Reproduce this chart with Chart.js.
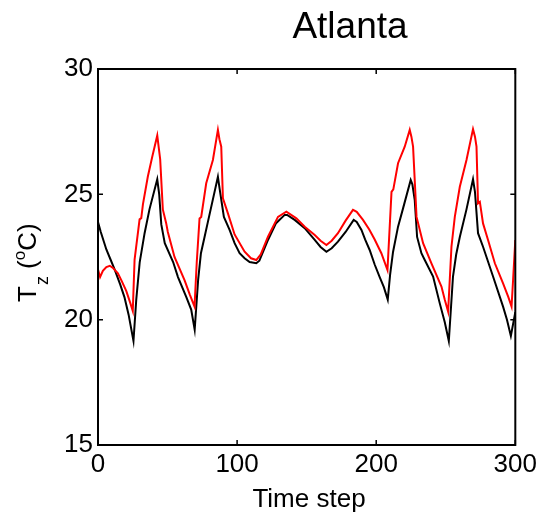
<!DOCTYPE html>
<html>
<head>
<meta charset="utf-8">
<script src="https://cdn.jsdelivr.net/npm/chart.js@4"></script>
<style>
  html, body { margin: 0; padding: 0; background: #fff; }
  canvas { display: block; }
</style>
</head>
<body>
<canvas id="tzChart" width="541" height="515"></canvas>
<script>
const chartTitle = 'Atlanta';
const xTitle = 'Time step';
const xTicks = [0, 100, 200, 300];
const yTicks = [15, 20, 25, 30];

// black curve
const blackSteps = [0, 2, 4, 6, 9, 12, 16, 19, 22, 25.5, 27.5, 30, 33.5, 37, 42.6, 44, 45.5, 48, 54, 57.5,
  63.5, 67, 69.5, 72, 74, 76.6, 79, 86.2, 87.5, 90.5, 94.6, 98.2, 101.8, 105.4, 109, 113.8, 116, 122.2, 128, 134.2,
  136, 141.4, 148.6, 155.8, 160, 164.2, 168, 172.5, 178, 183.8, 186, 189.4, 192, 195.3, 198.9, 202.5, 205.5, 208.3, 210, 212.1,
  215.7, 219.3, 224.8, 226, 227.7, 229.4, 232.5, 234.9, 240.9, 245.7, 249.3, 252.2, 255.2, 257.5, 260.1, 264.9, 269.6, 271, 273.2, 276.8,
  284, 291.2, 294, 296.8, 300];
const blackTz = [23.9, 23.5, 23.15, 22.8, 22.4, 22.0, 21.4, 20.9, 20.2, 19.15, 20.8, 22.3, 23.45, 24.4, 25.6, 25.0, 23.8, 23.05, 22.3, 21.7,
  20.9, 20.4, 19.6, 21.6, 22.65, 23.3, 23.9, 25.7, 25.2, 24.1, 23.58, 23.05, 22.65, 22.45, 22.3, 22.25, 22.35, 23.18, 23.85, 24.18,
  24.18, 23.98, 23.65, 23.18, 22.9, 22.71, 22.85, 23.11, 23.5, 23.98, 23.9, 23.58, 23.2, 22.78, 22.2, 21.7, 21.3, 20.8, 21.8, 22.7,
  23.71, 24.44, 25.57, 25.4, 24.77, 23.3, 22.65, 22.38, 21.72, 20.65, 19.9, 19.15, 21.72, 22.6, 23.3, 24.4, 25.6, 25.1, 23.45, 22.91,
  21.72, 20.52, 20.0, 19.35, 20.3];

// red curve
const redSteps = [0, 1.5, 3.5, 6, 8.5, 11, 14.3, 17, 20.3, 23, 25, 26.3, 29.9, 31.1, 32.3, 35.8, 39, 42.6, 43.8, 44.7,
  46.6, 49, 50.2, 55, 62.2, 66, 69.4, 71, 73, 74.2, 77.8, 82.6, 86.2, 87.3, 88.6, 89.8, 93.4, 98.2, 105.4, 110,
  113.8, 117, 122.2, 129.4, 135.4, 142.6, 148.6, 155.8, 160, 164.2, 168, 172.5, 178, 183.3, 186, 190.5, 195, 198.9, 203.7, 208.1,
  211, 212.3, 215.7, 220.5, 224.1, 225.3, 226.5, 229, 233.7, 239.7, 246.9, 249.3, 251.7, 254.1, 256.5, 260.1, 264.9, 269.6, 271, 272.1,
  273.2, 274.5, 276.8, 280.4, 285.3, 291.2, 295, 297.3, 298.4, 300];
const redTz = [22.0, 21.7, 21.95, 22.1, 22.15, 22.05, 21.85, 21.55, 21.15, 20.7, 20.35, 22.4, 24.0, 24.05, 24.6, 25.7, 26.5, 27.35, 26.8, 26.4,
  24.4, 23.85, 23.5, 22.5, 21.58, 21.0, 20.52, 22.3, 24.04, 24.1, 25.44, 26.37, 27.57, 27.2, 26.9, 24.84, 24.24, 23.4, 22.71, 22.45,
  22.38, 22.6, 23.31, 24.1, 24.31, 24.04, 23.71, 23.38, 23.15, 22.98, 23.15, 23.45, 23.95, 24.38, 24.3, 23.98, 23.6, 23.2, 22.65, 21.98,
  25.1, 25.2, 26.24, 26.9, 27.57, 27.3, 26.9, 24.1, 23.05, 22.25, 21.32, 20.79, 20.32, 22.91, 24.1, 25.3, 26.37, 27.6, 27.3, 26.9,
  24.64, 24.7, 23.84, 23.18, 22.25, 21.45, 20.9, 20.52, 21.58, 23.18];

const FONT = '"Liberation Sans", Arial, sans-serif';

function pts(xs, ys) {
  return xs.map((x, i) => ({ x: x, y: ys[i] }));
}

// box, inward ticks, title and y label (matlab style)
const frame = {
  id: 'frame',
  afterDraw(chart) {
    const ctx = chart.ctx;
    const a = chart.chartArea;
    const sx = chart.scales.x, sy = chart.scales.y;
    ctx.save();
    ctx.strokeStyle = '#000';
    ctx.lineWidth = 2;
    ctx.strokeRect(a.left, a.top, a.right - a.left, a.bottom - a.top);
    ctx.lineWidth = 1.5;
    ctx.beginPath();
    xTicks.forEach(v => {
      const px = sx.getPixelForValue(v);
      ctx.moveTo(px, a.bottom); ctx.lineTo(px, a.bottom - 5);
      ctx.moveTo(px, a.top); ctx.lineTo(px, a.top + 5);
    });
    yTicks.forEach(v => {
      const py = sy.getPixelForValue(v);
      ctx.moveTo(a.left, py); ctx.lineTo(a.left + 5, py);
      ctx.moveTo(a.right, py); ctx.lineTo(a.right - 5, py);
    });
    ctx.stroke();

    ctx.fillStyle = '#000';
    ctx.textAlign = 'center';
    ctx.textBaseline = 'alphabetic';
    ctx.font = '37px ' + FONT;
    ctx.fillText(chartTitle, 350, 38);

    ctx.font = '26px ' + FONT;
    ctx.fillText(xTitle, 309, 507);

    // T_z (°C), rotated
    ctx.translate(36, 302);
    ctx.rotate(-Math.PI / 2);
    ctx.textAlign = 'left';
    let cx = 0;
    ctx.font = '26px ' + FONT;
    ctx.fillText('T', cx, 0);
    cx += ctx.measureText('T').width + 1;
    ctx.font = '18px ' + FONT;
    ctx.fillText('z', cx, 12);
    cx += ctx.measureText('z').width;
    ctx.font = '26px ' + FONT;
    ctx.fillText(' (', cx, 0);
    cx += ctx.measureText(' (').width;
    ctx.font = '17px ' + FONT;
    ctx.fillText('o', cx, -11);
    cx += ctx.measureText('o').width;
    ctx.font = '26px ' + FONT;
    ctx.fillText('C)', cx, 0);
    ctx.restore();
  }
};

new Chart(document.getElementById('tzChart'), {
  type: 'line',
  data: {
    datasets: [
      { label: 'red', data: pts(redSteps, redTz), borderColor: '#ff0000', borderWidth: 2, pointRadius: 0, tension: 0, fill: false },
      { label: 'black', data: pts(blackSteps, blackTz), borderColor: '#000000', borderWidth: 2, pointRadius: 0, tension: 0, fill: false }
    ]
  },
  options: {
    responsive: false,
    animation: false,
    devicePixelRatio: 1,
    layout: { padding: { left: 0, right: 25, top: 69, bottom: 0 } },
    plugins: { legend: { display: false }, tooltip: { enabled: false }, title: { display: false } },
    scales: {
      x: {
        type: 'linear', min: 0, max: 300,
        afterBuildTicks: s => { s.ticks = xTicks.map(v => ({ value: v })); },
        afterFit: s => { s.height = 70; },
        grid: { display: false, drawTicks: false },
        border: { display: false },
        ticks: { color: '#000', font: { family: FONT, size: 26 }, padding: 4, maxRotation: 0 }
      },
      y: {
        min: 15, max: 30,
        afterBuildTicks: s => { s.ticks = yTicks.map(v => ({ value: v })); },
        afterFit: s => { s.width = 98; },
        grid: { display: false, drawTicks: false },
        border: { display: false },
        ticks: { color: '#000', font: { family: FONT, size: 26 }, padding: 5 }
      }
    }
  },
  plugins: [frame]
});
</script>
</body>
</html>
